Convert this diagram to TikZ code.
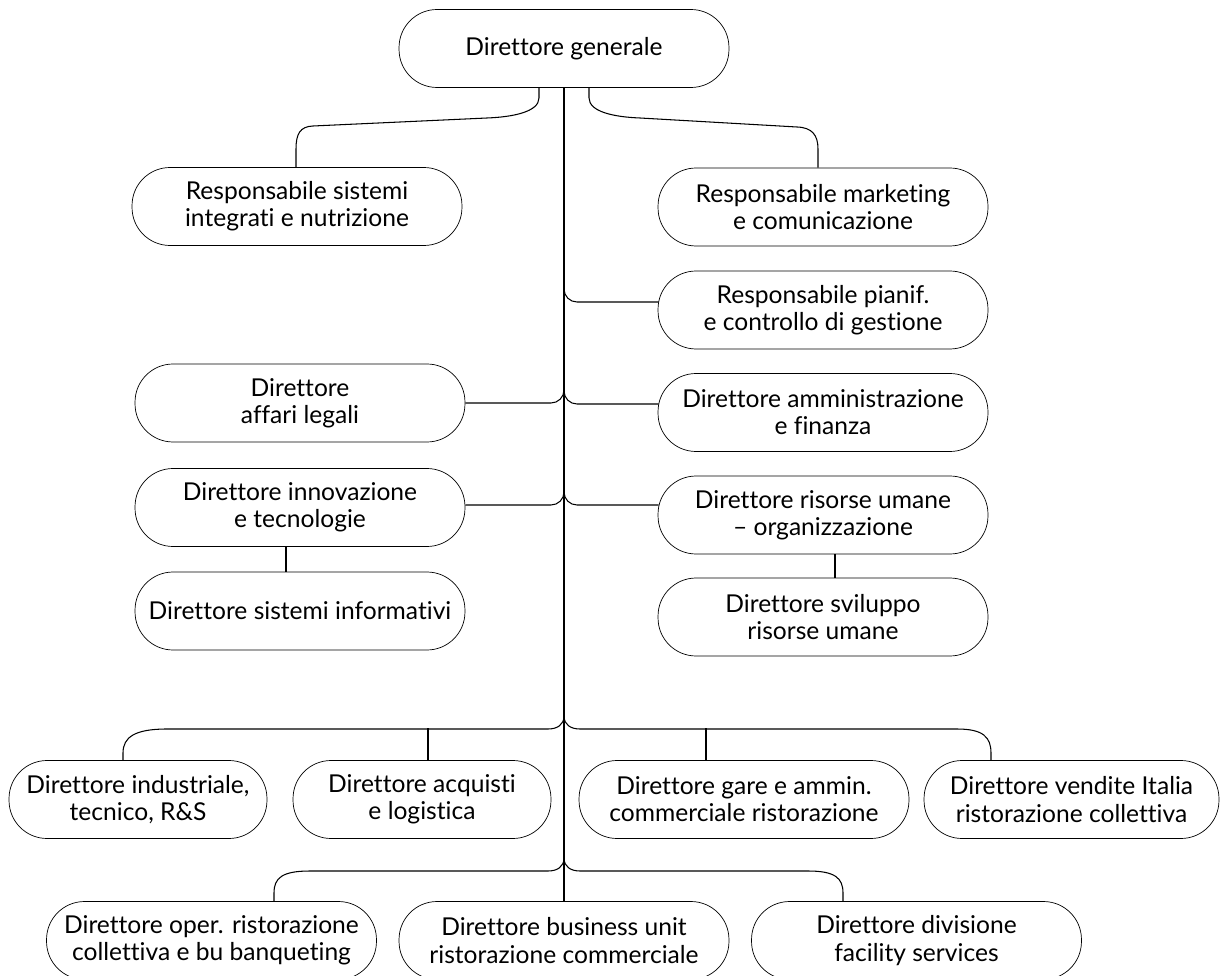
\documentclass[tikz,border=0pt]{standalone}
\usepackage{fontspec}
\setmainfont{Lato}[Ligatures={TeX,NoCommon}]
\usetikzlibrary{calc}
\usetikzlibrary{positioning}
\tikzset{
  % boxes of the chart, rounded at both ends
  role/.style={
    draw,rounded corners=0.76cm,
    minimum width=6.6cm,minimum height=1.56cm,
    align=center,inner sep=0pt,
    font=\fontsize{14}{15.5}\selectfont,
  },
  narrow/.style={role,minimum width=5.16cm},
  mid/.style={role,minimum width=5.9cm},
  % lines between the boxes
  link/.style={line width=.6pt},
  elbow/.style={link,rounded corners=0.26cm},
}

\begin{document}
\begin{tikzpicture}[x=0.02cm,y=-0.02cm]
  \fill[white] (0,0) rectangle (1224,976);
  \useasboundingbox (0,0) rectangle (1224,976);
  % head and staff
  \node[role] (gen) at (564,48.5) {Direttore generale};
  \node[role] (sin) at (297,206.5) {Responsabile sistemi\\integrati e nutrizione};
  \node[role] (mkt) at (823,207) {Responsabile marketing\\e comunicazione};
  \node[role] (pian) at (823,310) {Responsabile pianif.\\e controllo di gestione};
  \node[role] (leg) at (300,403) {Direttore\\affari legali};
  \node[role] (afc) at (823,412.5) {Direttore amministrazione\\e finanza};
  \node[role] (inn) at (300,507.5) {Direttore innovazione\\e tecnologie};
  \node[role] (hr) at (823,515) {Direttore risorse umane\\– organizzazione};
  \node[role] (sis) at (300,611) {Direttore sistemi informativi};
  \node[role] (svil) at (823,617) {Direttore sviluppo\\risorse umane};
  % first row of line managers
  \node[narrow] (ind) at (138,799.5) {Direttore industriale,\\tecnico, R\&S};
  \node[narrow] (acq) at (422,799.5) {Direttore acquisti\\e logistica};
  \node[role] (gare) at (744,799.5) {Direttore gare e ammin.\\commerciale ristorazione};
  \node[mid] (vend) at (1071.5,799.5) {Direttore vendite Italia\\ristorazione collettiva};
  % second row
  \node[role] (oper) at (211.5,940.5) {Direttore oper. ristorazione\\collettiva e bu banqueting};
  \node[role] (bu) at (564,940.5) {Direttore business unit\\ristorazione commerciale};
  \node[role] (fac) at (916.5,940.5) {Direttore divisione\\facility services};

  % trunk and the points where branches leave it
  \draw[link] (gen.south) -- (bu.north);
  \coordinate (tp) at (564,288);
  \coordinate (tl) at (564,390);
  \coordinate (ti) at (564,492);
  \coordinate (r1) at (564,716);
  \coordinate (r2) at (564,858);

  \draw[link] ($(gen.south)+(-25,0)$) -- ++(0,10)
    .. controls +(0,14) and +(26,-1) .. (487,118) -- (313,126)
    .. controls (300,126.5) and (296,134) .. (296,149) -- ($(sin.north)+(-1,0)$);
  \draw[link] ($(gen.south)+(25,0)$) -- ++(0,10)
    .. controls +(0,14) and +(-26,-1) .. (640,118) -- (797,127)
    .. controls (812,127.5) and (818,135) .. (818,149) -- ($(mkt.north)+(-5,0)$);

  \draw[elbow] (tp) |- ($(pian.west)+(1,-8)$);
  \draw[elbow] (tl) |- (leg.east);
  \draw[elbow] (tl) |- ($(afc.west)+(1,-8.5)$);
  \draw[elbow] (ti) |- ($(inn.east)+(0,-2.5)$);
  \draw[elbow] (ti) |- ($(hr.west)+(1,-10)$);
  \draw[link] ($(inn.south)+(-14,0)$) -- ($(sis.north)+(-14,0)$);
  \draw[link] ($(hr.south)+(12,0)$) -- ($(svil.north)+(12,0)$);

  % buses to the two rows
  \draw[link] (r1) .. controls (564,725) and (557,729) .. (548,729) -- (167,729)
    .. controls (135,729) and (123,737) .. (123,753) -- ($(ind.north)+(-15,0)$);
  \draw[link] (r1) .. controls (564,725) and (571,729) .. (580,729) -- (957,729)
    .. controls (983,729) and (991,737) .. (991,753) -- ($(vend.north)+(-80.5,0)$);
  \draw[link] ($(acq.north)+(6,0)$) -- ++(0,-32);
  \draw[link] ($(gare.north)+(-38,0)$) -- ++(0,-32);
  \draw[link] (r2) .. controls (564,867) and (557,871) .. (548,871) -- (310,871)
    .. controls (282,871) and (274,878) .. (274,893) -- ($(oper.north)+(62.5,0)$);
  \draw[link] (r2) .. controls (564,867) and (571,871) .. (580,871) -- (808,871)
    .. controls (835,871) and (843,878) .. (843,893) -- ($(fac.north)+(-73.5,0)$);
\end{tikzpicture}
\end{document}
